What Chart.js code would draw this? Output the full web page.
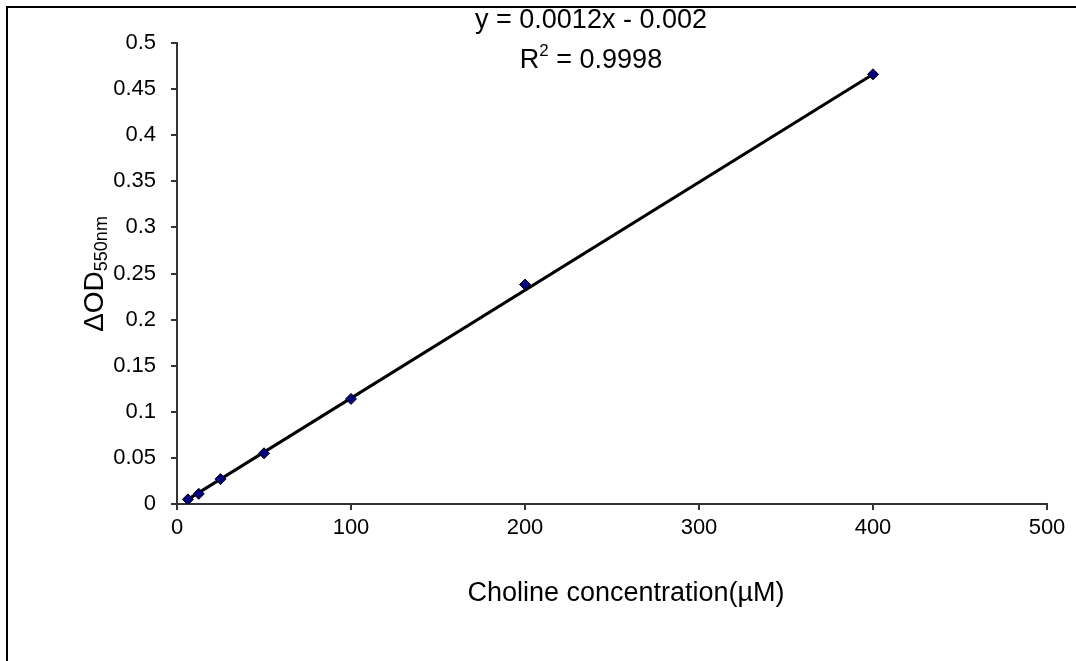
<!DOCTYPE html>
<html>
<head>
<meta charset="utf-8">
<script src="https://cdn.jsdelivr.net/npm/chart.js@4.4.1/dist/chart.umd.min.js"></script>
<style>
  html, body { margin: 0; padding: 0; background: #fff; }
  #wrap { width: 1076px; height: 661px; position: relative; }
</style>
</head>
<body>
<div id="wrap"><canvas id="calib"></canvas></div>
<script>
// choline standard curve
const concentrations = [6.25, 12.5, 25, 50, 100, 200, 400];
const deltaOD = [0.005, 0.011, 0.027, 0.055, 0.114, 0.238, 0.466];
// trendline end points as drawn
const trendX = [6.25, 400];
const trendY = [0.005, 0.466];
const xTicks = [0, 100, 200, 300, 400, 500];
const yTicks = [0, 0.05, 0.1, 0.15, 0.2, 0.25, 0.3, 0.35, 0.4, 0.45, 0.5];
const equationText = 'y = 0.0012x - 0.002';
const r2Text = '0.9998';

const FONT = '"Liberation Sans", Arial, sans-serif';

const decorPlugin = {
  id: 'decor',
  beforeDraw(chart) {
    const ctx = chart.ctx;
    ctx.save();
    ctx.fillStyle = '#fff';
    ctx.fillRect(0, 0, chart.width, chart.height);
    ctx.strokeStyle = '#000';
    ctx.lineWidth = 2;
    ctx.strokeRect(7, 7, chart.width + 20, chart.height + 20);
    ctx.restore();
  },
  afterDraw(chart) {
    const ctx = chart.ctx;
    const area = chart.chartArea;
    const midX = (area.left + area.right) / 2;
    ctx.save();
    ctx.fillStyle = '#000';
    ctx.textBaseline = 'middle';

    // x axis title
    ctx.font = '27px ' + FONT;
    ctx.textAlign = 'center';
    ctx.fillText('Choline concentration(\u00b5M)', midX + 14, 594);

    // equation + R²
    ctx.fillText(equationText, 591, 21);
    const left = 'R';
    const right = ' = ' + r2Text;
    const wl = ctx.measureText(left).width;
    const wr = ctx.measureText(right).width;
    ctx.font = '17px ' + FONT;
    const ws = ctx.measureText('2').width;
    const total = wl + ws + wr;
    let x0 = 591 - total / 2;
    ctx.textAlign = 'left';
    ctx.font = '27px ' + FONT;
    ctx.fillText(left, x0, 61);
    ctx.font = '17px ' + FONT;
    ctx.fillText('2', x0 + wl, 51);
    ctx.font = '27px ' + FONT;
    ctx.fillText(right, x0 + wl + ws, 61);

    // y axis title, rotated, with subscript
    ctx.translate(95, 274);
    ctx.rotate(-Math.PI / 2);
    ctx.font = '28px ' + FONT;
    const wMain = ctx.measureText('\u0394OD').width;
    ctx.font = '18px ' + FONT;
    const wSub = ctx.measureText('550nm').width;
    const start = -(wMain + wSub) / 2;
    ctx.font = '28px ' + FONT;
    ctx.fillText('\u0394OD', start, 0);
    ctx.font = '18px ' + FONT;
    ctx.fillText('550nm', start + wMain, 7);
    ctx.restore();
  }
};

new Chart(document.getElementById('calib'), {
  type: 'scatter',
  data: {
    datasets: [
      {
        label: 'Linear',
        type: 'line',
        data: trendX.map((x, i) => ({ x, y: trendY[i] })),
        borderColor: '#000',
        borderWidth: 3,
        pointRadius: 0,
        fill: false,
        order: 2
      },
      {
        label: 'Standards',
        data: concentrations.map((x, i) => ({ x, y: deltaOD[i] })),
        pointStyle: 'rectRot',
        pointRadius: 5.5,
        backgroundColor: '#000080',
        borderColor: '#000',
        borderWidth: 1,
        order: 1
      }
    ]
  },
  options: {
    responsive: true,
    maintainAspectRatio: false,
    animation: false,
    layout: { padding: { left: 0, right: 29, top: 43, bottom: 0 } },
    plugins: { legend: { display: false }, tooltip: { enabled: false } },
    scales: {
      x: {
        type: 'linear',
        min: 0, max: 500,
        afterBuildTicks: (s) => { s.ticks = xTicks.map(v => ({ value: v })); },
        afterFit: (s) => { s.height = 157; },
        border: { display: true, color: '#333', width: 2 },
        grid: { display: true, drawOnChartArea: false, drawTicks: true, tickLength: 6, color: '#333', lineWidth: 2 },
        ticks: { color: '#000', font: { family: FONT, size: 22 }, padding: 5, maxRotation: 0 }
      },
      y: {
        type: 'linear',
        min: 0, max: 0.5,
        afterBuildTicks: (s) => { s.ticks = yTicks.map(v => ({ value: v })); },
        afterFit: (s) => { s.width = 177; },
        border: { display: true, color: '#333', width: 2 },
        grid: { display: true, drawOnChartArea: false, drawTicks: true, tickLength: 6, color: '#333', lineWidth: 2 },
        ticks: { color: '#000', font: { family: FONT, size: 22 }, padding: 15, callback: (v) => String(+v.toFixed(2)) }
      }
    }
  },
  plugins: [decorPlugin]
});
</script>
</body>
</html>
